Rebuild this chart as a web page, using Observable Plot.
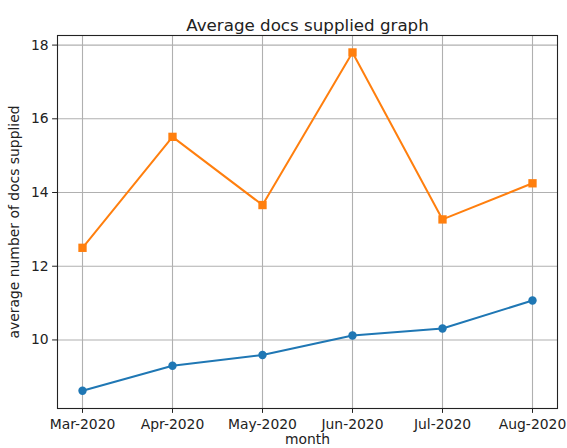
<!DOCTYPE html>
<html><head><meta charset="utf-8">
<script src="https://cdn.jsdelivr.net/npm/d3@7"></script>
<script src="https://cdn.jsdelivr.net/npm/@observablehq/plot@0.6"></script>
<style>body{margin:0;background:#fff}</style>
</head><body><div id="chart"></div>
<script>
const months = ["Mar-2020","Apr-2020","May-2020","Jun-2020","Jul-2020","Aug-2020"];
const seriesA = [8.62, 9.30, 9.59, 10.12, 10.31, 11.07];
const seriesB = [12.50, 15.51, 13.66, 17.80, 13.27, 14.25];
const yTicks = [10, 12, 14, 16, 18];
const title = "Average docs supplied graph";
const xLabel = "month";
const yLabel = "average number of docs supplied";

const dataA = months.map((m,i)=>({month:m, v:seriesA[i]}));
const dataB = months.map((m,i)=>({month:m, v:seriesB[i]}));
const font = "DejaVu Sans, sans-serif";

const chart = Plot.plot({
  width: 567, height: 448,
  marginLeft: 57, marginRight: 10, marginTop: 35, marginBottom: 40,
  style: {fontFamily: font, fontSize: "13.9px", color: "#222", background: "#fff"},
  x: {type: "point", domain: months, padding: 0.25, label: null},
  y: {domain: [8.14, 18.26], label: null},
  marks: [
    Plot.gridX(months, {stroke: "#b0b0b0", strokeOpacity: 1, strokeWidth: 1.1}),
    Plot.gridY(yTicks, {stroke: "#b0b0b0", strokeOpacity: 1, strokeWidth: 1.1}),
    Plot.axisX(months, {tickSize: 4.9, tickPadding: 6, fontSize: 13.9, label: null, fill: "#222"}),
    Plot.axisY(yTicks, {tickSize: 4.9, tickPadding: 4, fontSize: 13.9, label: null, fill: "#222"}),
    Plot.frame({stroke: "#222", strokeWidth: 1.1}),
    Plot.line(dataA, {x: "month", y: "v", stroke: "#1f77b4", strokeWidth: 2}),
    Plot.dot(dataA, {x: "month", y: "v", fill: "#1f77b4", r: 4.2, symbol: "circle"}),
    Plot.line(dataB, {x: "month", y: "v", stroke: "#ff7f0e", strokeWidth: 2}),
    Plot.dot(dataB, {x: "month", y: "v", fill: "#ff7f0e", r: 4.7, symbol: "square"}),
    Plot.text([title], {frameAnchor: "top", lineAnchor: "bottom", dy: -5, fontSize: 16.7, fill: "#222"}),
    Plot.text([xLabel], {frameAnchor: "bottom", lineAnchor: "top", dy: 26, fontSize: 13.9, fill: "#222"}),
    Plot.text([yLabel], {frameAnchor: "left", textAnchor: "middle", dx: -43, rotate: -90, fontSize: 13.9, fill: "#222"})
  ]
});
document.getElementById("chart").appendChild(chart);
</script></body></html>
